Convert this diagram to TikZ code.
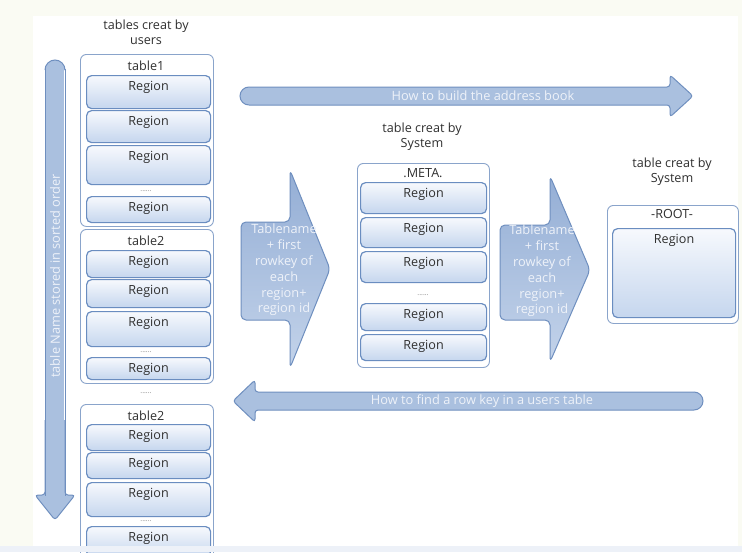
\documentclass[tikz,border=0pt]{standalone}
\usepackage{fontspec}
\setmainfont{Open Sans}
\definecolor{cream}{HTML}{FAFBF3}
\definecolor{stripc}{HTML}{EDF1F8}
\definecolor{txtc}{HTML}{303030}
\definecolor{tblc}{HTML}{8AA4CB}
\definecolor{regc}{HTML}{6A8DC0}
\definecolor{regtop}{HTML}{F7F9FD}
\definecolor{regbot}{HTML}{C5D6EE}
\definecolor{arrc}{HTML}{6F8FBF}
\definecolor{arrf}{HTML}{AAC0DF}
\definecolor{arrtop}{HTML}{94AED5}
\definecolor{arrbot}{HTML}{C3D3EA}
\definecolor{arrt}{HTML}{EEF2F9}
\newcommand\mkreg[5]{%
  \node[reg, anchor=north west, minimum width=#4, minimum height=#5] (#1) at (#2,#3) {};
  \node[lbl] (#1t) at ([yshift=-12pt]#1.north) {Region};}
\begin{document}
\begin{tikzpicture}[x=1pt,y=-1pt,
  lbl/.style={font=\fontsize{12.6}{15}\selectfont, text=txtc, align=center, inner sep=0pt},
  tbl/.style={draw=tblc, line width=0.9pt, fill=white, rounded corners=6pt, inner sep=0pt, anchor=north west},
  reg/.style={draw=regc, line width=1.2pt, top color=regtop, bottom color=regbot, rounded corners=5pt, inner sep=0pt},
  arr/.style={draw=arrc, line width=1pt, fill=arrf},
  chev/.style={draw=arrc, line width=1pt, top color=arrtop, bottom color=arrbot, rounded corners=5pt},
  arrtxt/.style={font=\fontsize{12.8}{15.8}\selectfont, text=arrt, align=center, inner sep=0pt},
  dotstxt/.style={font=\fontsize{7}{7}\selectfont, text=gray, inner sep=0pt}
]
% background
\fill[cream] (0,0) rectangle (742,552);
\fill[white] (33,16) rectangle (738,546);
\useasboundingbox (0,0) rectangle (742,552);

% vertical arrow
\fill[arrf] (46,69) rectangle (64,496);
\draw[arr, rounded corners=3pt] (65,420) -- (65,495) -- (75,495) -- (55,520) -- (35,495) -- (45,495) -- (45,420);
\fill[arrf] (45,70) arc[start angle=180, end angle=360, radius=10] -- cycle;
\draw[arrc, line width=1pt] (45,70) arc[start angle=180, end angle=360, radius=10];
\draw[arrc, line width=1pt] (45,69) -- (45,496) (65,69) -- (65,496);
\node[arrtxt, rotate=90] (vt) at (55,276) {table Name stored in sorted order};

% top arrow
\draw[arr, rounded corners=3pt] (249,87) -- (670,87) -- (670,75) -- (693,96) -- (670,117) -- (670,105) -- (249,105);
\draw[arr] (249,105) arc[start angle=90, end angle=270, radius=9];
\fill[arrf] (249,88) rectangle (260,104);
\node[arrtxt] (toptxt) at (483,96) {How to build the address book};

% bottom arrow
\draw[arr, rounded corners=3pt] (694,392) -- (255,392) -- (255,380) -- (233,401) -- (255,422) -- (255,410) -- (694,410);
\draw[arr] (694,410) arc[start angle=90, end angle=-90, radius=9];
\fill[arrf] (685,393) rectangle (694,409);
\node[arrtxt] (bottxt) at (482,401) {How to find a row key in a users table};

% chevrons
\draw[chev] (241,222) -- (290,222) -- (290,170) -- (330,269) -- (290,368) -- (290,320) -- (241,320) -- cycle;
\node[arrtxt] (lc) at (284,270) {Tablename\\+ first\\rowkey of\\each\\region+\\region id};
\draw[chev] (500,225) -- (550,225) -- (550,176) -- (590,270) -- (550,362) -- (550,320) -- (500,320) -- cycle;
\node[arrtxt] (rc) at (542,271) {Tablename\\+ first\\rowkey of\\each\\region+\\region id};

% user tables
\node[lbl] (hu) at (146,32) {tables creat by\\users};
\node[tbl, minimum width=133pt, minimum height=172pt] (t1) at (80,54) {};
\node[lbl] (t1l) at (146,66) {table1};
\mkreg{ra}{86}{75}{124pt}{33pt}
\mkreg{rb}{86}{110}{124pt}{32pt}
\mkreg{rc}{86}{145}{124pt}{39pt}
\node[dotstxt] (d1) at (146,191) {......};
\mkreg{rd}{86}{196}{124pt}{26pt}

\node[tbl, minimum width=133pt, minimum height=154pt] (t2) at (80,229) {};
\node[lbl] (t2l) at (146,241) {table2};
\mkreg{re}{86}{250}{124pt}{27pt}
\mkreg{rf}{86}{279}{124pt}{28pt}
\mkreg{rg}{86}{311}{124pt}{35pt}
\node[dotstxt] (d2) at (146,352) {......};
\mkreg{rh}{86}{357}{124pt}{22pt}

\node[dotstxt] (d3) at (146,393) {......};

\node[tbl, minimum width=133pt, minimum height=160pt] (t3) at (80,404) {};
\node[lbl] (t3l) at (146,416) {table2};
\mkreg{ri}{86}{424}{124pt}{26pt}
\mkreg{rj}{86}{452}{124pt}{26pt}
\mkreg{rk}{86}{482}{124pt}{34pt}
\node[dotstxt] (d4) at (146,521) {......};
\mkreg{rl}{86}{526}{124pt}{30pt}

% META
\node[lbl] (hm) at (422,137) {table creat by\\System};
\node[tbl, minimum width=132pt, minimum height=204pt] (meta) at (357,163) {};
\node[lbl] (metal) at (423,173) {.META.};
\mkreg{ma}{360}{182}{126pt}{31pt}
\mkreg{mb}{360}{217}{126pt}{30pt}
\mkreg{mc}{360}{251}{126pt}{31pt}
\node[dotstxt] (d5) at (423,295) {......};
\mkreg{md}{360}{303}{126pt}{27pt}
\mkreg{me}{360}{334}{126pt}{26pt}

% ROOT
\node[lbl] (hr) at (672,172) {table creat by\\System};
\node[tbl, minimum width=131pt, minimum height=118pt] (root) at (607,205) {};
\node[lbl] (rootl) at (672,214) {-ROOT-};
\mkreg{rr}{612}{228}{123pt}{89pt}

% bottom strip
\fill[stripc] (0,546) rectangle (742,552);
\end{tikzpicture}
\end{document}
